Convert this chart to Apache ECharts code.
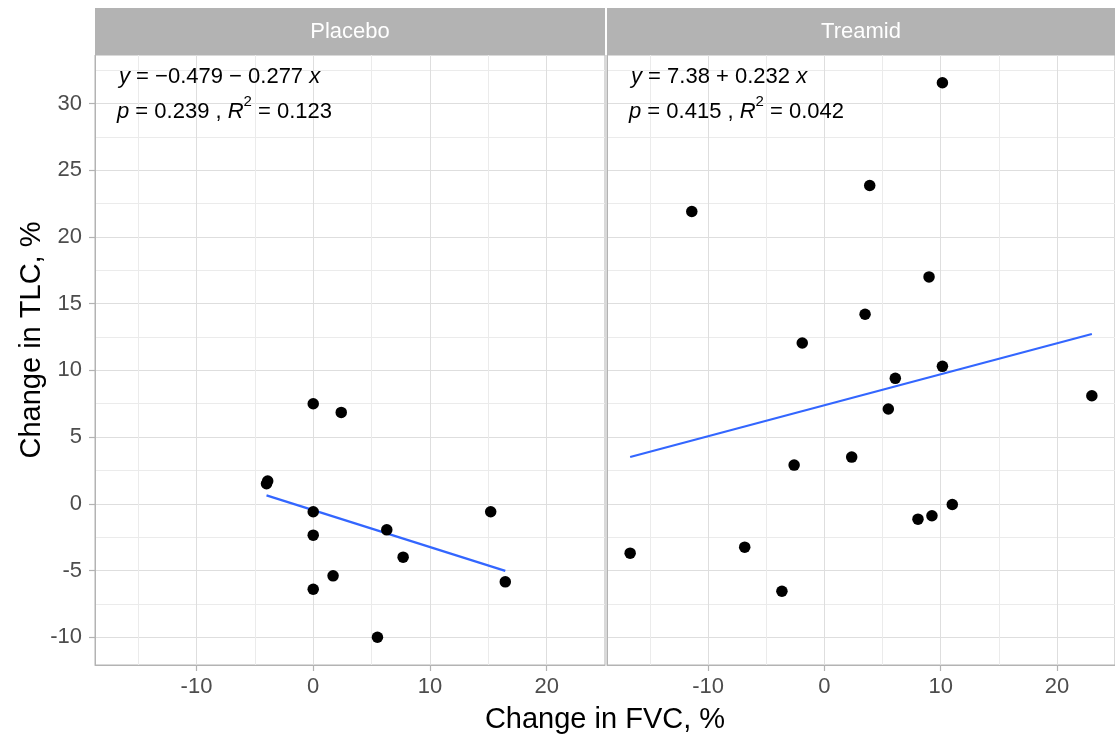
<!DOCTYPE html>
<html>
<head>
<meta charset="utf-8">
<script src="https://cdn.jsdelivr.net/npm/echarts@6/dist/echarts.min.js"></script>
<style>html,body{margin:0;padding:0;background:#fff}#c{width:1115px;height:740px}</style>
</head>
<body>
<div id="c"></div>
<script>
// ---- data ----
const panels = ['Placebo', 'Treamid'];
const placeboX = [0, 2.4, -3.9, -4.0, 0, 6.3, 15.2, 0, 7.7, 1.7, 16.45, 0, 5.5];
const placeboY = [7.5, 6.85, 1.7, 1.5, -0.6, -1.95, -0.6, -2.35, -4.0, -5.4, -5.85, -6.4, -10.0];
const treamidX = [10.15, 3.9, -11.4, 9.0, 3.5, -1.9, 10.15, 6.1, 5.5, 23.0, 2.35, -2.6, 11.0, 9.25, 8.05, -6.85, -16.7, -3.65];
const treamidY = [31.55, 23.85, 21.9, 17.0, 14.2, 12.05, 10.3, 9.4, 7.1, 8.1, 3.5, 2.9, -0.05, -0.9, -1.15, -3.25, -3.7, -6.55];
const placeboFitX = [-4.0, 16.45];
const placeboFitY = [0.63, -5.03];
const treamidFitX = [-16.7, 23.0];
const treamidFitY = [3.51, 12.72];
const xMajorTicks = [-10, 0, 10, 20];
const xMinorTicks = [-15, -5, 5, 15];
const yMajorTicks = [-10, -5, 0, 5, 10, 15, 20, 25, 30];
const yMinorTicks = [-7.5, -2.5, 2.5, 7.5, 12.5, 17.5, 22.5, 27.5, 32.5];
const eqLabels = [
  ['{i|y} = \u22120.479 \u2212 0.277 {i|x}', '{i|p} = 0.239 , {i|R}{s|2} = 0.123'],
  ['{i|y} = 7.38 + 0.232 {i|x}', '{i|p} = 0.415 , {i|R}{s|2} = 0.042']
];
const xTitle = 'Change in FVC, %';
const yTitle = 'Change in TLC, %';
const xRange = [-18.69, 24.99];
const yRange = [-12.08, 33.63];

// ---- build ----
const FONT = 'Liberation Sans, Arial, sans-serif';
const pairs = (xs, ys) => xs.map((v, i) => [v, ys[i]]);
const grids = [
  { left: 95, top: 55, width: 510, height: 610 },
  { left: 607, top: 55, width: 508, height: 610 }
];
const gridOpt = grids.map(g => Object.assign({ show: true, borderColor: '#B3B3B3', borderWidth: 1, backgroundColor: 'transparent', containLabel: false, outerBoundsMode: 'none' }, g));

const TICK = { show: true, inside: false, length: 6, lineStyle: { color: '#B3B3B3', width: 1.2 } };
const xAxes = [], yAxes = [];
grids.forEach((g, gi) => {
  xAxes.push({
    type: 'value', gridIndex: gi, min: xRange[0], max: xRange[1], position: 'bottom',
    axisLine: { show: true, onZero: false, lineStyle: { color: '#B3B3B3', width: 1 } },
    axisTick: Object.assign({ customValues: xMajorTicks }, TICK),
    axisLabel: { show: true, customValues: xMajorTicks, color: '#4D4D4D', fontSize: 22, fontFamily: FONT, margin: 11 },
    splitLine: { show: true, lineStyle: { color: '#DEDEDE', width: 1 } }
  });
  xAxes.push({
    type: 'value', gridIndex: gi, min: xRange[0], max: xRange[1], position: 'bottom',
    axisLine: { show: false, onZero: false },
    axisTick: { show: false, customValues: xMinorTicks },
    axisLabel: { show: false, customValues: xMinorTicks },
    splitLine: { show: true, lineStyle: { color: '#EBEBEB', width: 1 } }
  });
  yAxes.push({
    type: 'value', gridIndex: gi, min: yRange[0], max: yRange[1], position: 'left',
    axisLine: { show: true, onZero: false, lineStyle: { color: '#B3B3B3', width: 1 } },
    axisTick: Object.assign({ customValues: yMajorTicks }, TICK, { show: gi === 0 }),
    axisLabel: { show: gi === 0, customValues: yMajorTicks, color: '#4D4D4D', fontSize: 22, fontFamily: FONT, margin: 13 },
    splitLine: { show: true, lineStyle: { color: '#DEDEDE', width: 1 } }
  });
  yAxes.push({
    type: 'value', gridIndex: gi, min: yRange[0], max: yRange[1], position: 'left',
    axisLine: { show: false, onZero: false },
    axisTick: { show: false, customValues: yMinorTicks },
    axisLabel: { show: false, customValues: yMinorTicks },
    splitLine: { show: true, lineStyle: { color: '#EBEBEB', width: 1 } }
  });
});

const series = [];
const pts = [pairs(placeboX, placeboY), pairs(treamidX, treamidY)];
const fits = [pairs(placeboFitX, placeboFitY), pairs(treamidFitX, treamidFitY)];
[0, 1].forEach(gi => {
  series.push({
    type: 'line', xAxisIndex: gi * 2, yAxisIndex: gi * 2, data: fits[gi],
    symbol: 'none', silent: true, z: 3,
    lineStyle: { color: '#3366FF', width: 2.2 }
  });
  series.push({
    type: 'scatter', xAxisIndex: gi * 2, yAxisIndex: gi * 2, data: pts[gi],
    symbol: 'circle', symbolSize: 11.5, z: 4,
    itemStyle: { color: '#000000', opacity: 1 }
  });
});

const rich = {
  i: { fontStyle: 'italic', fontSize: 22, fontFamily: FONT, fill: '#000', lineHeight: 36, verticalAlign: 'middle' },
  s: { fontSize: 15, fontFamily: FONT, fill: '#000', verticalAlign: 'top', lineHeight: 16 }
};
const graphics = [];
grids.forEach((g, gi) => {
  graphics.push({ type: 'rect', left: g.left, top: 8, shape: { width: g.width, height: 47 }, style: { fill: '#B3B3B3' }, silent: true });
  graphics.push({ type: 'text', x: g.left + g.width / 2, y: 32, style: { text: panels[gi], fill: '#FFFFFF', font: '22px ' + FONT, align: 'center', verticalAlign: 'middle' }, silent: true });
  graphics.push({ type: 'text', x: g.left + 24, y: 77, z: 10, style: { text: eqLabels[gi][0], fill: '#000', font: '22px ' + FONT, align: 'left', verticalAlign: 'middle', lineHeight: 36, rich: rich }, silent: true });
  graphics.push({ type: 'text', x: g.left + 22, y: 112, z: 10, style: { text: eqLabels[gi][1], fill: '#000', font: '22px ' + FONT, align: 'left', verticalAlign: 'middle', lineHeight: 36, rich: rich }, silent: true });
});
graphics.push({ type: 'text', x: 605, y: 720, style: { text: xTitle, fill: '#000', font: '29px ' + FONT, align: 'center', verticalAlign: 'middle' }, silent: true });
graphics.push({ type: 'text', x: 32, y: 340, rotation: Math.PI / 2, style: { text: yTitle, fill: '#000', font: '29px ' + FONT, align: 'center', verticalAlign: 'middle' }, silent: true });

const chart = echarts.init(document.getElementById('c'), null, { renderer: 'canvas' });
chart.setOption({
  animation: false,
  backgroundColor: '#FFFFFF',
  grid: gridOpt,
  xAxis: xAxes,
  yAxis: yAxes,
  series: series,
  graphic: graphics
});
</script>
</body>
</html>
